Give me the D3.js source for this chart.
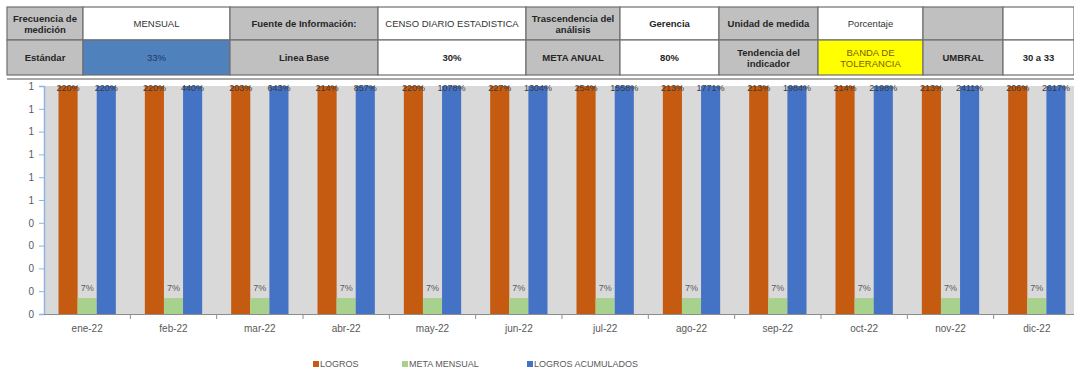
<!DOCTYPE html>
<html>
<head>
<meta charset="utf-8">
<script src="https://cdn.jsdelivr.net/npm/d3@7"></script>
<style>
  body { margin: 0; background: #fff; }
  svg { display: block; font-family: Arial, "Liberation Sans", sans-serif; }
</style>
</head>
<body>
<svg id="chart" width="1074" height="374"></svg>
<script>
// table texts
var row1 = ["Frecuencia de|medición", "MENSUAL", "Fuente de Información:", "CENSO DIARIO ESTADISTICA", "Trascendencia del|análisis", "Gerencia", "Unidad de medida", "Porcentaje", "", ""];
var row2 = ["Estándar", "33%", "Linea Base", "30%", "META ANUAL", "80%", "Tendencia del|indicador", "BANDA DE|TOLERANCIA", "UMBRAL", "30 a 33"];

// chart data
var months = ["ene-22", "feb-22", "mar-22", "abr-22", "may-22", "jun-22", "jul-22", "ago-22", "sep-22", "oct-22", "nov-22", "dic-22"];
var logros = [2.20, 2.20, 2.03, 2.14, 2.20, 2.27, 2.54, 2.13, 2.13, 2.14, 2.13, 2.06];
var metaMensual = [0.07, 0.07, 0.07, 0.07, 0.07, 0.07, 0.07, 0.07, 0.07, 0.07, 0.07, 0.07];
var acumulados = [2.20, 4.40, 6.43, 8.57, 10.78, 13.04, 15.58, 17.71, 19.84, 21.98, 24.11, 26.17];
var seriesNames = ["LOGROS", "META MENSUAL", "LOGROS ACUMULADOS"];
var yTicks = [0, 0.1, 0.2, 0.3, 0.4, 0.5, 0.6, 0.7, 0.8, 0.9, 1];

var svg = d3.select("#chart");

// ---------- header table ----------
var colEdges = [7, 83, 230, 378, 526, 620, 719, 818, 923, 1003, 1074];
var rowEdges = [7, 40, 75];
var gray = "#c0c0c0";
var fills1 = [gray, "#fff", gray, "#fff", gray, "#fff", gray, "#fff", gray, "#fff"];
var fills2 = [gray, "#4f81bd", gray, "#fff", gray, "#fff", gray, "#ffff00", gray, "#fff"];
var bold1 = [1, 0, 1, 0, 1, 1, 1, 0, 0, 0];
var bold2 = [1, 0, 1, 1, 1, 1, 1, 0, 1, 1];

var table = svg.append("g");
[[row1, fills1, bold1], [row2, fills2, bold2]].forEach(function(r, ri) {
  r[0].forEach(function(txt, ci) {
    var x0 = colEdges[ci], x1 = colEdges[ci + 1];
    var y0 = rowEdges[ri], y1 = rowEdges[ri + 1];
    table.append("rect")
      .attr("x", x0).attr("y", y0)
      .attr("width", x1 - x0).attr("height", y1 - y0)
      .attr("fill", r[1][ci])
      .attr("stroke", "#6f6f6f").attr("stroke-width", 1.2);
    var lines = txt.split("|");
    var t = table.append("text")
      .attr("x", (x0 + x1) / 2)
      .attr("y", (y0 + y1) / 2 - (lines.length - 1) * 5.5 + 3.5)
      .attr("text-anchor", "middle")
      .style("font-size", "9.5px")
      .style("font-weight", r[2][ci] ? "bold" : "normal")
      .attr("fill", ri == 1 && ci == 7 ? "#7f6000" : (ri == 1 && ci == 1 ? "#1f3864" : (r[2][ci] ? "#262626" : "#333")));
    lines.forEach(function(l, li) {
      t.append("tspan").attr("x", (x0 + x1) / 2).attr("dy", li ? 11 : 0).text(l);
    });
  });
});
table.append("line").attr("x1", 7).attr("x2", 1074).attr("y1", 79).attr("y2", 79)
  .attr("stroke", "#8c8c8c").attr("stroke-width", 1.5);

// ---------- chart ----------
var margin = { left: 44, top: 86, bottom: 60 };
var plotRight = 1080;
var innerH = 314 - margin.top;

var g = svg.append("g").attr("transform", `translate(${margin.left}, ${margin.top})`);

var xScale = d3.scaleBand().domain(months).range([0, plotRight - margin.left]).paddingInner(0).paddingOuter(0);
var xSub = d3.scaleBand().domain(seriesNames).range([0, xScale.bandwidth()]).paddingOuter(0.76).paddingInner(0);
var yScale = d3.scaleLinear().domain([0, 1]).range([innerH, 0]);
var colors = { "LOGROS": "#c55a11", "META MENSUAL": "#a9d18e", "LOGROS ACUMULADOS": "#4472c4" };

g.append("rect").attr("width", plotRight - margin.left).attr("height", innerH).attr("fill", "#d9d9d9");

var data = months.map(function(m, i) {
  return [
    { m: m, s: "LOGROS", v: logros[i] },
    { m: m, s: "META MENSUAL", v: metaMensual[i] },
    { m: m, s: "LOGROS ACUMULADOS", v: acumulados[i] }
  ];
});
var flat = [].concat.apply([], data);

g.selectAll("rect.bar")
  .data(flat)
  .enter()
  .append("rect")
  .attr("class", "bar")
  .attr("x", d => xScale(d.m) + xSub(d.s))
  .attr("width", xSub.bandwidth())
  .attr("y", d => yScale(Math.min(d.v, 1)))
  .attr("height", d => innerH - yScale(Math.min(d.v, 1)))
  .attr("fill", d => colors[d.s]);

// value labels
g.selectAll("text.lbl")
  .data(flat)
  .enter()
  .append("text")
  .attr("class", "lbl")
  .attr("x", d => xScale(d.m) + xSub(d.s) + xSub.bandwidth() / 2)
  .attr("y", d => d.v > 1 ? 5 : yScale(d.v) - 7)
  .attr("text-anchor", "middle")
  .style("font-size", "9px")
  .attr("fill", d => d.v > 1 ? "#3a3a3a" : "#595959")
  .text(d => Math.round(d.v * 100) + "%");

// axes
var yAxis = g.append("g")
  .call(d3.axisLeft(yScale).tickValues(yTicks).tickSize(5).tickFormat(d => Math.round(d)));
yAxis.select(".domain").attr("stroke", "#8eb4e3").attr("stroke-width", 1.5);
yAxis.selectAll(".tick line").attr("stroke", "#8eb4e3");
yAxis.selectAll("text").attr("fill", "#595959").style("font-size", "10px").attr("x", -10);

var xAxis = g.append("g")
  .attr("transform", `translate(0,${innerH})`)
  .call(d3.axisBottom(xScale).tickSize(0).tickSizeOuter(0));
xAxis.select(".domain").attr("stroke", "#8c8c8c");
xAxis.selectAll("text").attr("fill", "#595959").style("font-size", "10px").attr("dy", "1.5em");
xAxis.selectAll(".bnd")
  .data(months.slice(1))
  .enter()
  .append("line")
  .attr("x1", d => xScale(d)).attr("x2", d => xScale(d))
  .attr("y1", 0).attr("y2", 5)
  .attr("stroke", "#8c8c8c");

// legend
var legendX = [313, 402, 527];
var legend = svg.append("g").attr("transform", "translate(0, 367)");
seriesNames.forEach(function(s, i) {
  legend.append("rect").attr("x", legendX[i]).attr("y", -6).attr("width", 6).attr("height", 6).attr("fill", colors[s]);
  legend.append("text").attr("x", legendX[i] + 7).attr("y", 0)
    .style("font-size", "9px").attr("fill", "#595959").text(s);
});
</script>
</body>
</html>
